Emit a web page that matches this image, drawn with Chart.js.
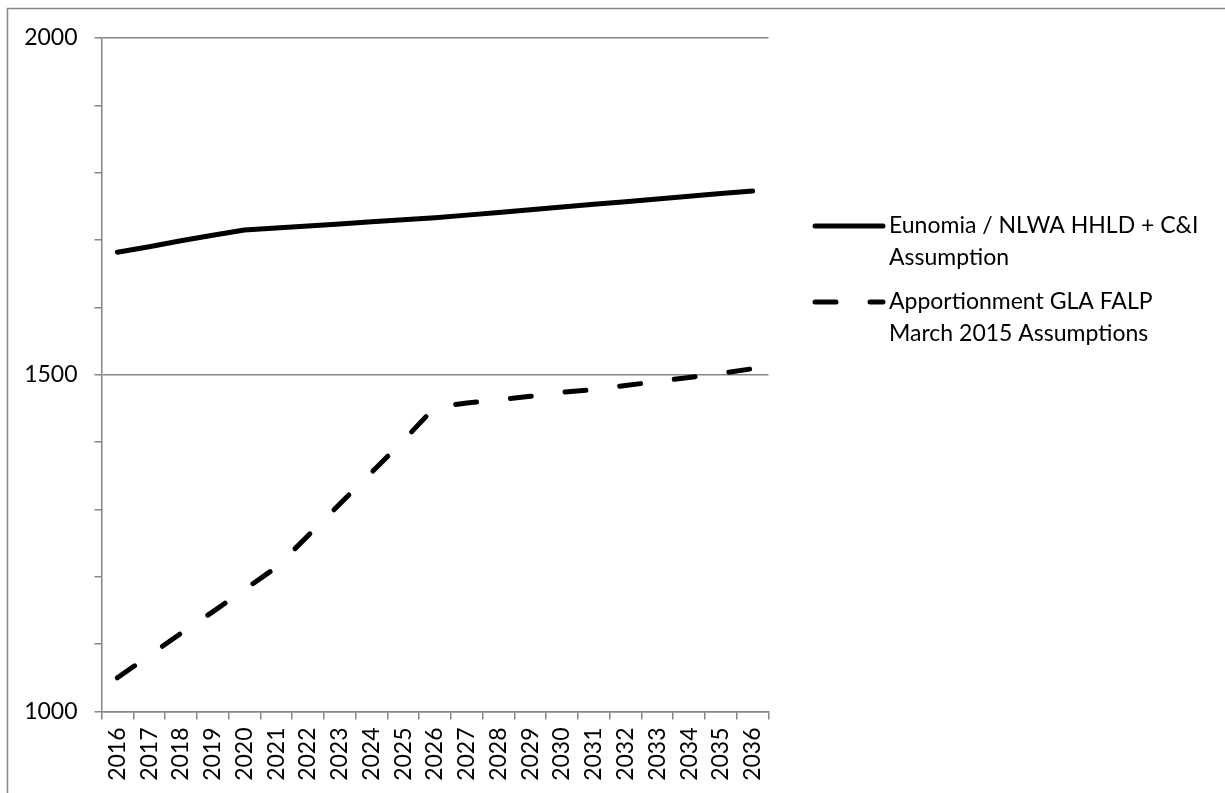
<!DOCTYPE html>
<html><head><meta charset="utf-8">
<script src="https://cdn.jsdelivr.net/npm/chart.js@4/dist/chart.umd.min.js"></script>
<style>html,body{margin:0;padding:0;background:#fff;overflow:hidden}#wrap{position:relative;width:1225px;height:793px}canvas{display:block}</style>
</head><body><div id="wrap"><canvas id="c" width="1225" height="793"></canvas></div>
<script>
const years = ['2016','2017','2018','2019','2020','2021','2022','2023','2024','2025','2026','2027','2028','2029','2030','2031','2032','2033','2034','2035','2036'];
const eunomia = [1682,1690,1699,1707,1715,1718,1721,1724,1727,1730,1733,1737,1741,1745,1749,1753,1757,1761,1765,1769,1773];
const apportionment = [1050,1083,1116,1148,1181,1214,1261,1308,1355,1402,1452,1458,1463,1468,1474,1478,1484,1490,1496,1502,1509];
const seriesNames = [['Eunomia / NLWA HHLD + C&I','Assumption'],['Apportionment GLA FALP','March 2015 Assumptions']];
const yTicks = [1000,1500,2000];

const GRAY = '#868686';
const FONT = 'Lato, "Open Sans", sans-serif';
const FS = 23;

const framePlugin = {
  id: 'frame',
  beforeDraw(chart){
    const c = chart.ctx;
    c.save();
    c.fillStyle = '#fff';
    c.fillRect(0,0,chart.width,chart.height);
    c.strokeStyle = GRAY; c.lineWidth = 1.5;
    c.strokeRect(7.5, 8.5, chart.width + 20, chart.height + 20);
    c.restore();
  },
  afterDraw(chart){
    const c = chart.ctx;
    const rows = [226, 302];
    c.save();
    chart.data.datasets.forEach((ds, i) => {
      const y = rows[i];
      c.strokeStyle = ds.borderColor;
      c.lineWidth = ds.borderWidth;
      c.lineCap = 'round';
      c.setLineDash(ds.borderDash || []);
      c.beginPath(); c.moveTo(815, y); c.lineTo(883, y); c.stroke();
      c.setLineDash([]);
      c.fillStyle = '#000';
      c.font = FS + 'px ' + FONT;
      c.textBaseline = 'middle';
      c.textAlign = 'left';
      const lines = seriesNames[i];
      lines.forEach((t, k) => c.fillText(t, 889, y + k * 32));
    });
    c.restore();
  }
};

new Chart(document.getElementById('c'), {
  type: 'line',
  data: {
    labels: years,
    datasets: [
      { label: seriesNames[0].join(' '), data: eunomia, borderColor: '#000', borderWidth: 5, pointRadius: 0, tension: 0, borderCapStyle: 'round', borderJoinStyle: 'round', fill: false },
      { label: seriesNames[1].join(' '), data: apportionment, borderColor: '#000', borderWidth: 5, borderDash: [21, 34], pointRadius: 0, tension: 0, borderCapStyle: 'round', borderJoinStyle: 'round', fill: false }
    ]
  },
  options: {
    responsive: false,
    devicePixelRatio: 1,
    animation: false,
    layout: { padding: { top: 38, right: 456.5, left: 0, bottom: 0 } },
    plugins: { legend: { display: false }, tooltip: { enabled: false } },
    scales: {
      x: {
        type: 'category',
        offset: true,
        afterFit(s){ s.height = 81.5; },
        grid: { offset: true, drawOnChartArea: false, color: GRAY, tickColor: GRAY, tickLength: 8, lineWidth: 1.5 },
        border: { display: true, color: GRAY, width: 1.5 },
        ticks: { minRotation: 90, maxRotation: 90, autoSkip: false, padding: 8, color: '#000', font: { family: FONT, size: FS } }
      },
      y: {
        min: 1000, max: 2000,
        afterFit(s){ s.width = 101.5; },
        afterBuildTicks(s){ const t=[]; for(let v=1000; v<=2000; v+=100) t.push({value:v}); s.ticks = t; },
        grid: { color: ctx => (ctx.tick && yTicks.includes(ctx.tick.value)) ? GRAY : 'rgba(0,0,0,0)', tickColor: GRAY, tickLength: 7, lineWidth: 1.5 },
        border: { display: true, color: GRAY, width: 1.5 },
        ticks: { autoSkip: false, padding: 17, color: '#000', font: { family: FONT, size: FS }, callback: v => yTicks.includes(v) ? String(v) : '' }
      }
    }
  },
  plugins: [framePlugin]
});
</script>
</body></html>
